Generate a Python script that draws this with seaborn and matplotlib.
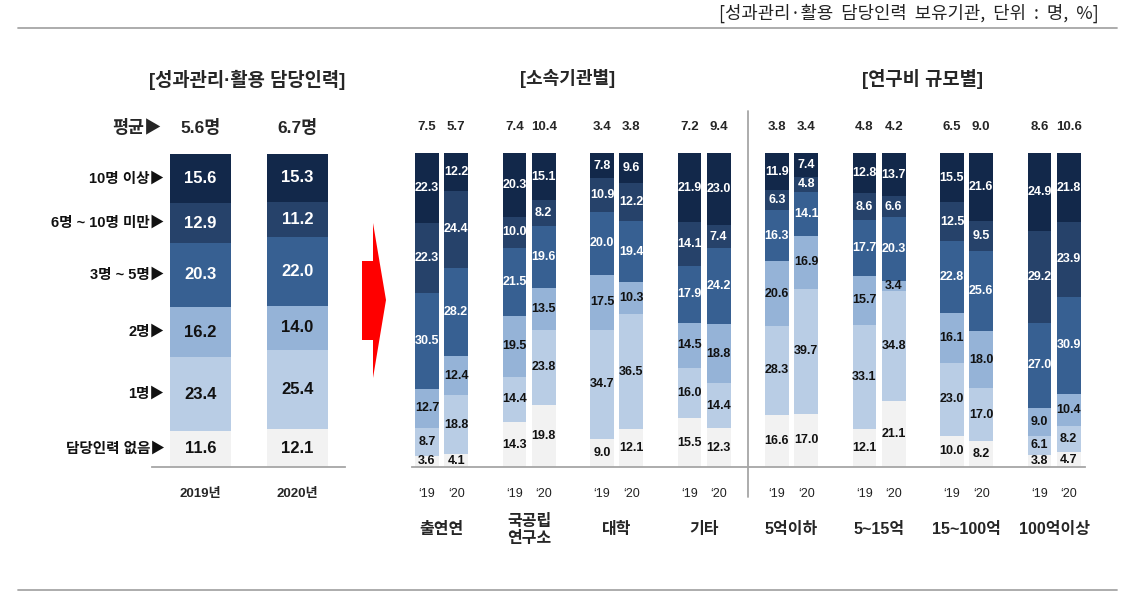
# Dependencies
import matplotlib
matplotlib.use('Agg')
import matplotlib.pyplot as plt
import seaborn as sns
import pandas as pd
from matplotlib.lines import Line2D
from matplotlib.patches import Polygon
from matplotlib import font_manager

# Data

## levels, bottom -> top
levels = ['담당인력 없음', '1명', '2명', '3명 ~ 5명', '6명 ~ 10명 미만', '10명 이상']

## overall panel
years_total = ['2019년', '2020년']
avg_total = ['5.6명', '6.7명']
total_2019 = [11.6, 23.4, 16.2, 20.3, 12.9, 15.6]
total_2020 = [12.1, 25.4, 14.0, 22.0, 11.2, 15.3]

## by institution / by budget
groups = ['출연연', '국공립\n연구소', '대학', '기타', '5억이하', '5~15억', '15~100억', '100억이상']
year_ticks = ['\u201819', '\u201820']
avg_19 = [7.5, 7.4, 3.4, 7.2, 3.8, 4.8, 6.5, 8.6]
avg_20 = [5.7, 10.4, 3.8, 9.4, 3.4, 4.2, 9.0, 10.6]
share_19 = [
    [3.6, 8.7, 12.7, 30.5, 22.3, 22.3],
    [14.3, 14.4, 19.5, 21.5, 10.0, 20.3],
    [9.0, 34.7, 17.5, 20.0, 10.9, 7.8],
    [15.5, 16.0, 14.5, 17.9, 14.1, 21.9],
    [16.6, 28.3, 20.6, 16.3, 6.3, 11.9],
    [12.1, 33.1, 15.7, 17.7, 8.6, 12.8],
    [10.0, 23.0, 16.1, 22.8, 12.5, 15.5],
    [3.8, 6.1, 9.0, 27.0, 29.2, 24.9],
]
share_20 = [
    [4.1, 18.8, 12.4, 28.2, 24.4, 12.2],
    [19.8, 23.8, 13.5, 19.6, 8.2, 15.1],
    [12.1, 36.5, 10.3, 19.4, 12.2, 9.6],
    [12.3, 14.4, 18.8, 24.2, 7.4, 23.0],
    [17.0, 39.7, 16.9, 14.1, 4.8, 7.4],
    [21.1, 34.8, 3.4, 20.3, 6.6, 13.7],
    [8.2, 17.0, 18.0, 25.6, 9.5, 21.6],
    [4.7, 8.2, 10.4, 30.9, 23.9, 21.8],
]

# Style
colors = ['#f2f2f2', '#b9cde5', '#95b3d7', '#376092', '#26426a', '#12284a']
text_colors = ['#111111', '#111111', '#111111', 'white', 'white', 'white']
line_gray = '#a6a6a6'

sns.set_style('white')
plt.rcParams['font.family'] = ['Liberation Sans', 'Noto Sans CJK KR']

# narrow face for the in-bar numbers, if it is there
installed = {f.name for f in font_manager.fontManager.ttflist}
num_family = ['Liberation Sans Narrow'] if 'Liberation Sans Narrow' in installed else ['Liberation Sans']

W, H = 1124, 609
def fx(px):
    return px / W
def fy(py):
    return 1 - py / H

fig = plt.figure(figsize=(W / 100, H / 100), dpi=100)


def long_df(slots, shares):
    # cumulative tops for the "draw from the top down" stacking trick
    rows = []
    for slot, vals in zip(slots, shares):
        cum = 0
        for k, v in enumerate(vals):
            cum += v
            rows.append({'slot': slot, 'level': k, 'value': v, 'top': cum, 'bottom': cum - v})
    return pd.DataFrame(rows)


def draw_stack(ax, df, order, width, fontsize, family):
    for k in reversed(range(len(levels))):
        sns.barplot(
            data=df[df['level'] == k], x='slot', y='top', order=order,
            color=colors[k], saturation=1, width=width, errorbar=None,
            linewidth=0, ax=ax
        )
    for _, r in df.iterrows():
        ax.text(order.index(r['slot']), r['bottom'] + r['value'] / 2, f"{r['value']:.1f}",
                ha='center', va='center', color=text_colors[int(r['level'])],
                fontsize=fontsize, fontweight='bold', family=family)


def clean(ax):
    for s in ['top', 'right', 'left']:
        ax.spines[s].set_visible(False)
    ax.spines['bottom'].set_color(line_gray)
    ax.spines['bottom'].set_linewidth(1.3)
    ax.set_xticks([])
    ax.set_yticks([])
    ax.set_xlabel('')
    ax.set_ylabel('')
    ax.set_ylim(0, 100)


# Left panel: overall
ax1 = fig.add_axes([fx(152), fy(467), (345 - 152) / W, (467 - 154) / H])
df_total = long_df(years_total, [total_2019, total_2020])
draw_stack(ax1, df_total, years_total, 0.63, 12, num_family)
clean(ax1)
ax1.set_xlim(-0.5, 1.49)

cum = 0
for lab, v in zip(levels, total_2019):
    ax1.text(-0.37, cum + v / 2, lab + '▶', ha='right', va='center',
             fontsize=10.5, fontweight='bold', color='#111111')
    cum += v
ax1.text(-0.40, 108.5, '평균▶', ha='right', va='center', fontsize=12.5, fontweight='bold')
for i, a in enumerate(avg_total):
    ax1.text(i, 108.5, a, ha='center', va='center', fontsize=12.5, fontweight='bold')
    ax1.text(i, -8.6, years_total[i], ha='center', va='center', fontsize=9.5, fontweight='bold')

# Middle/right panels: by group
order = []
slots_19, slots_20 = [], []
for g in range(len(groups)):
    slots_19.append(f'g{g}_19')
    slots_20.append(f'g{g}_20')
    order += [f'g{g}_19', f'g{g}_20']
    if g < len(groups) - 1:
        order.append(f'gap{g}')

ax2 = fig.add_axes([fx(412), fy(467), (1085 - 412) / W, (467 - 153) / H])
df_grp = long_df(slots_19 + slots_20, share_19 + share_20)
draw_stack(ax2, df_grp, order, 0.82, 9, num_family)
clean(ax2)
ax2.set_xlim(-0.514, 22.56)

for g, name in enumerate(groups):
    x19 = order.index(slots_19[g])
    x20 = order.index(slots_20[g])
    ax2.text(x19, 108.3, f'{avg_19[g]:.1f}', ha='center', va='center', fontsize=9.5, fontweight='bold')
    ax2.text(x20, 108.3, f'{avg_20[g]:.1f}', ha='center', va='center', fontsize=9.5, fontweight='bold')
    ax2.text(x19, -8.6, year_ticks[0], ha='center', va='center', fontsize=9, color='#222222',
             family=num_family)
    ax2.text(x20, -8.6, year_ticks[1], ha='center', va='center', fontsize=9, color='#222222',
             family=num_family)
    ax2.text((x19 + x20) / 2, -20, name, ha='center', va='center', fontsize=11.5,
             fontweight='bold', linespacing=1.15)

# separator between the two group panels
sep_x = order.index('gap3')
ax2.add_line(Line2D([sep_x, sep_x], [-9.5, 113.5], color=line_gray, lw=1.3, clip_on=False))

# panel titles
fig.text(fx(247), fy(80), '[성과관리·활용 담당인력]', ha='center', va='center', fontsize=13.5, fontweight='bold')
fig.text(fx(568), fy(79), '[소속기관별]', ha='center', va='center', fontsize=13, fontweight='bold')
fig.text(fx(922), fy(79), '[연구비 규모별]', ha='center', va='center', fontsize=13.5, fontweight='bold')

# header note + rules
fig.text(fx(1099), fy(13), '[성과관리·활용  담당인력  보유기관,  단위  :  명,  %]', ha='right', va='center',
         fontsize=12.8, family=['Noto Sans CJK KR'], color='#222222')
fig.add_artist(Line2D([fx(18), fx(1117)], [fy(28), fy(28)], color=line_gray, lw=1.3))
fig.add_artist(Line2D([fx(18), fx(1117)], [fy(590), fy(590)], color=line_gray, lw=1.3))

# red arrow
arrow_px = [(362, 261), (373, 261), (373, 223), (386, 300), (373, 378), (373, 340), (362, 340)]
fig.add_artist(Polygon([(fx(x), fy(y)) for x, y in arrow_px], closed=True,
                       transform=fig.transFigure, facecolor='#ff0000', edgecolor='none'))

plt.savefig('out.png', dpi=100)
plt.close('all')
